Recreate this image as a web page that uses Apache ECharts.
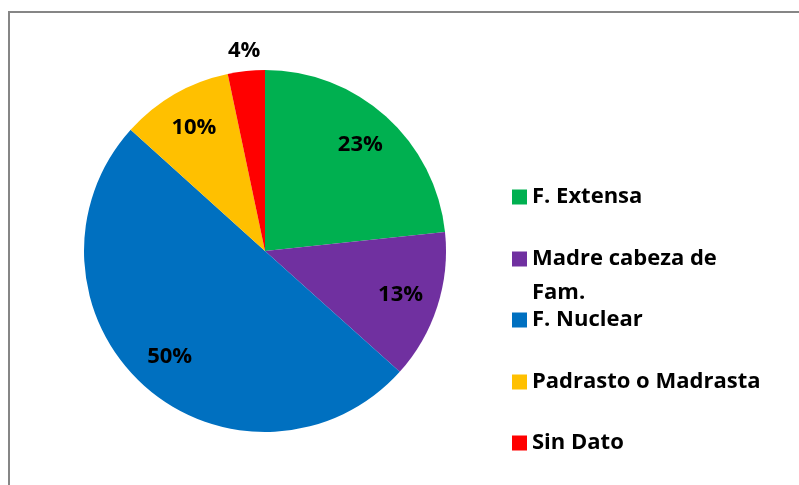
<!DOCTYPE html>
<html>
<head>
  <meta charset="utf8">
  <script src="https://cdn.jsdelivr.net/npm/echarts@6/dist/echarts.min.js"></script>
  <style>
    html, body { margin: 0; padding: 0; background: #fff; }
    #main { width: 799px; height: 485px; }
  </style>
</head>
<body>
<div id="main"></div>
<script type="text/javascript">
    // datos
    var categorias = ['F. Extensa', 'Madre cabeza de Fam.', 'F. Nuclear', 'Padrasto o Madrasta', 'Sin Dato'];
    var valores = [23.3, 13.3, 50, 10, 3.3];
    var etiquetas = ['23%', '13%', '50%', '10%', '4%'];
    var colores = ['#00B050', '#7030A0', '#0070C0', '#FFC000', '#FF0000'];
    var leyendaCentros = [197, 259, 320, 382, 443];

    var fuente = '"Open Sans", sans-serif';

    function datos(showFn) {
        var d = [];
        for (var i = 0; i < categorias.length; i++) {
            d.push({
                name: categorias[i],
                value: valores[i],
                itemStyle: { color: colores[i] },
                label: { show: showFn ? showFn(i) : false }
            });
        }
        return d;
    }

    function transparentes(showFn) {
        var d = datos(showFn);
        d.forEach(function (it) { it.itemStyle = { color: 'rgba(0,0,0,0)' }; });
        return d;
    }

    var etiqueta = {
        position: 'inside',
        color: '#000',
        fontSize: 22,
        fontWeight: 'bold',
        fontFamily: fuente,
        formatter: function (p) { return etiquetas[p.dataIndex]; }
    };

    var leyendas = [];
    for (var i = 0; i < categorias.length; i++) {
        var dos = i === 1;
        leyendas.push({
            orient: 'vertical',
            left: 512,
            top: dos ? leyendaCentros[i] - 51 : leyendaCentros[i] - 12,
            padding: 0,
            itemWidth: 15,
            itemHeight: 15,
            itemGap: 0,
            icon: 'rect',
            selectedMode: false,
            data: [categorias[i]],
            formatter: function (n) { return n === 'Madre cabeza de Fam.' ? '\nMadre cabeza de\nFam.' : n; },
            textStyle: {
                color: '#000',
                fontSize: 22,
                fontWeight: 'bold',
                fontFamily: fuente,
                lineHeight: dos ? 34 : 24
            }
        });
    }

    var chart = echarts.init(document.getElementById('main'));
    chart.setOption({
        animation: false,
        backgroundColor: '#fff',
        legend: leyendas,
        graphic: [{
            type: 'rect',
            shape: { x: 9, y: 12, width: 900, height: 600 },
            style: { fill: 'none', stroke: '#868686', lineWidth: 2 },
            silent: true
        }],
        series: [{
            type: 'pie',
            center: [265, 251],
            radius: 181,
            startAngle: 90,
            clockwise: true,
            label: { show: false },
            labelLine: { show: false },
            itemStyle: { borderWidth: 0 },
            emphasis: { disabled: true },
            data: datos()
        }, {
            type: 'pie',
            center: [265, 251],
            radius: [98, 181],
            startAngle: 90,
            silent: true,
            legendHoverLink: false,
            label: etiqueta,
            labelLine: { show: false },
            emphasis: { disabled: true },
            data: transparentes(function (i) { return i < 4; })
        }, {
            type: 'pie',
            center: [265, 251],
            radius: [181, 215],
            startAngle: 90,
            silent: true,
            legendHoverLink: false,
            label: etiqueta,
            labelLine: { show: false },
            emphasis: { disabled: true },
            data: transparentes(function (i) { return i === 4; })
        }]
    });
</script>
</body>
</html>
